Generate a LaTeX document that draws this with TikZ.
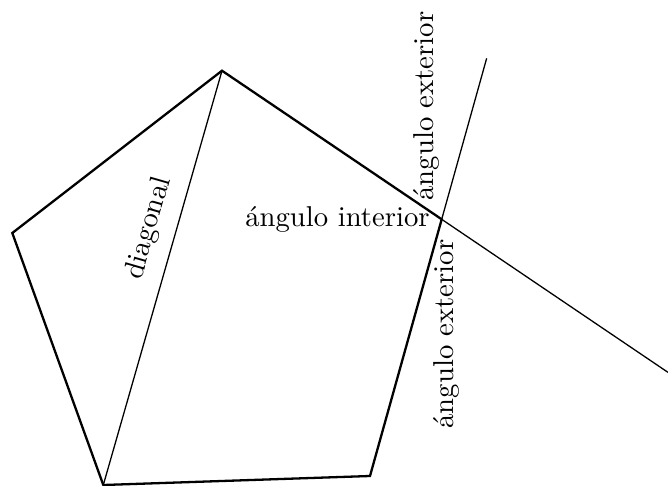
\documentclass[tikz,border=0pt]{standalone}
\usetikzlibrary{calc}
\begin{document}
\begin{tikzpicture}[x=0.3486pt,y=-0.3486pt,
  side/.style={thick,line join=miter},
  thin line/.style={line width=0.45pt},
  lab/.style={inner sep=0pt,font=\normalsize}]
\useasboundingbox (0,0) rectangle (668,486);
\coordinate (A) at (222,70.7);
\coordinate (B) at (12.3,233);
\coordinate (C) at (103.3,485);
\coordinate (D) at (370,476);
\coordinate (E) at (441.7,219.3);
\coordinate (X1) at ($(A)!2.03!(E)$);
\coordinate (X2) at ($(D)!1.627!(E)$);
\draw[side] (A) -- (B) -- (C) -- (D) -- (E) -- cycle;
\draw[thin line] (A) -- (C);
\draw[thin line] (E) -- (X1);
\draw[thin line] (E) -- (X2);
\node[lab,rotate=90] (ext1) at (426,106) {ángulo exterior};
\node[lab,rotate=90] (ext2) at (446,334) {ángulo exterior};
\node[lab] (int) at (337.5,219) {ángulo interior};
\node[lab,rotate=74] (diag) at (149,228) {diagonal};
\end{tikzpicture}
\end{document}
